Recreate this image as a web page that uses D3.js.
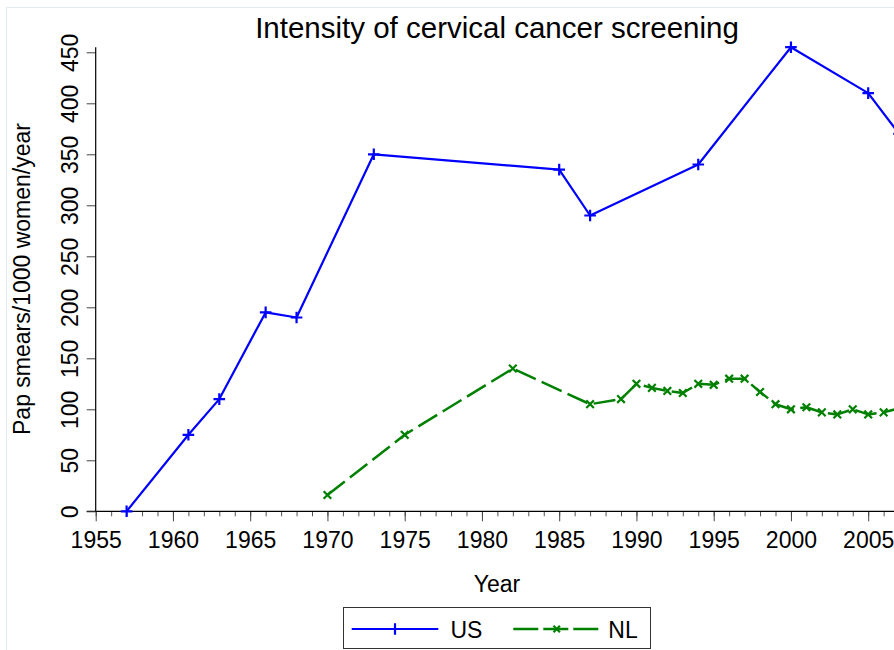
<!DOCTYPE html>
<html>
<head>
<meta charset="utf-8">
<script src="https://cdn.jsdelivr.net/npm/d3@7"></script>
<style>
  html, body { margin: 0; padding: 0; background: #fff; }
  svg { display: block; font-family: "Liberation Sans", Arial, sans-serif; }
</style>
</head>
<body>
<svg id="chart" width="894" height="650"></svg>
<script>
// Pap smears per 1000 women per year
const usYears  = [1957, 1961, 1963, 1966, 1968, 1973, 1985, 1987, 1994, 2000, 2005, 2007];
const usValues = [0, 75, 110, 195, 190, 350, 335, 290, 340, 455, 410, 370];

const nlYears  = [1970, 1975, 1982, 1987, 1989, 1990, 1991, 1992, 1993, 1994, 1995, 1996,
                  1997, 1998, 1999, 2000, 2001, 2002, 2003, 2004, 2005, 2006, 2007];
const nlValues = [16, 75, 140, 105, 110, 125, 121, 118, 116, 125, 124, 130,
                  130, 117, 105, 100, 102, 97, 95, 100, 95, 97, 101];

const xMajorTicks = [1955, 1960, 1965, 1970, 1975, 1980, 1985, 1990, 1995, 2000, 2005];
const xMinorTicks = d3.range(1955, 2008);
const yTicks = [0, 50, 100, 150, 200, 250, 300, 350, 400, 450];

const titleText = "Intensity of cervical cancer screening";
const xLabel = "Year";
const yLabel = "Pap smears/1000 women/year";
const seriesNames = ["US", "NL"];

const svg = d3.select("#chart");
const W = 894, H = 650;

// light outer frame of the graph region
svg.append("rect")
  .attr("x", 6.5).attr("y", 7.5).attr("width", W).attr("height", H)
  .attr("fill", "none").attr("stroke", "#e3ebee").attr("stroke-width", 1);

const x = d3.scaleLinear().domain([1955, 2007]).range([95.7, 95.7 + 52 * 15.45]);
const y = d3.scaleLinear().domain([0, 450]).range([511.3, 52.3]);

const fontSize = 23;

// x axis: minor ticks, then major ticks with labels
const xMinor = svg.append("g").attr("transform", `translate(0,${y(0)})`)
  .call(d3.axisBottom(x).tickValues(xMinorTicks).tickSize(5).tickFormat(""));
xMinor.select(".domain").remove();
xMinor.selectAll(".tick line").attr("stroke", "#555");

const xAxis = svg.append("g").attr("transform", `translate(0,${y(0)})`)
  .call(d3.axisBottom(x).tickValues(xMajorTicks).tickSize(10).tickPadding(8).tickFormat(d3.format("d")));
xAxis.select(".domain").remove();
xAxis.selectAll(".tick line").attr("stroke", "#444");
xAxis.selectAll(".tick text")
  .attr("font-size", fontSize).attr("fill", "#000")
  .attr("font-family", "Liberation Sans, Arial, sans-serif")
  .attr("dy", 0).attr("y", 36.5);

svg.append("line")
  .attr("x1", x(1955) - 9).attr("x2", W + 10)
  .attr("y1", y(0)).attr("y2", y(0))
  .attr("stroke", "#000").attr("stroke-width", 1.2);

// y axis with rotated labels
const yAxis = svg.append("g").attr("transform", `translate(${x(1955)},0)`)
  .call(d3.axisLeft(y).tickValues(yTicks).tickSize(9).tickFormat(d3.format("d")));
yAxis.select(".domain").remove();
yAxis.selectAll(".tick line").attr("stroke", "#444");
yAxis.selectAll(".tick text")
  .attr("font-size", fontSize).attr("fill", "#000")
  .attr("font-family", "Liberation Sans, Arial, sans-serif")
  .attr("transform", "rotate(-90)")
  .attr("text-anchor", "middle")
  .attr("x", 0).attr("dy", 0).attr("y", -18);

svg.append("line")
  .attr("x1", x(1955)).attr("x2", x(1955))
  .attr("y1", y(0)).attr("y2", y(d3.max(usValues)))
  .attr("stroke", "#000").attr("stroke-width", 1.2);

// titles
svg.append("text")
  .attr("x", 497).attr("y", 37.5)
  .attr("text-anchor", "middle").attr("font-size", 29.5).attr("fill", "#000")
  .text(titleText);

svg.append("text")
  .attr("x", 497).attr("y", 591.5)
  .attr("text-anchor", "middle").attr("font-size", fontSize).attr("fill", "#000")
  .text(xLabel);

svg.append("text")
  .attr("transform", `translate(29.5,279) rotate(-90)`)
  .attr("text-anchor", "middle").attr("font-size", fontSize).attr("fill", "#000")
  .text(yLabel);

// series
const us = usYears.map((yr, i) => ({ x: yr, v: usValues[i] }));
const nl = nlYears.map((yr, i) => ({ x: yr, v: nlValues[i] }));

const line = d3.line().x(d => x(d.x)).y(d => y(d.v));

const usColor = "#0000ff";
const nlColor = "#008000";

svg.append("path").datum(us)
  .attr("d", line).attr("fill", "none")
  .attr("stroke", usColor).attr("stroke-width", 2.2).attr("stroke-linejoin", "round");

svg.append("path").datum(nl)
  .attr("d", line).attr("fill", "none")
  .attr("stroke", nlColor).attr("stroke-width", 2.5)
  .attr("stroke-dasharray", "22,6.5").attr("stroke-linejoin", "round");

function plusPath(cx, cy, r) {
  return `M${cx - r},${cy}H${cx + r}M${cx},${cy - r}V${cy + r}`;
}
function crossPath(cx, cy, r) {
  return `M${cx - r},${cy - r}L${cx + r},${cy + r}M${cx - r},${cy + r}L${cx + r},${cy - r}`;
}

svg.append("g").selectAll("path").data(us).join("path")
  .attr("d", d => plusPath(x(d.x), y(d.v), 5.8))
  .attr("stroke", usColor).attr("stroke-width", 2.2).attr("fill", "none");

svg.append("g").selectAll("path").data(nl).join("path")
  .attr("d", d => crossPath(x(d.x), y(d.v), 3.8))
  .attr("stroke", nlColor).attr("stroke-width", 2.2).attr("fill", "none");

// legend
const lg = svg.append("g");
lg.append("rect")
  .attr("x", 343.5).attr("y", 607.5).attr("width", 307).attr("height", 41)
  .attr("fill", "#fff").attr("stroke", "#333").attr("stroke-width", 1);

const ly = 629;
lg.append("line").attr("x1", 351.7).attr("x2", 438.3).attr("y1", ly).attr("y2", ly)
  .attr("stroke", usColor).attr("stroke-width", 2.2);
lg.append("path").attr("d", plusPath(395, ly, 5.8))
  .attr("stroke", usColor).attr("stroke-width", 2.2).attr("fill", "none");
lg.append("text").attr("x", 450.5).attr("y", 637.5)
  .attr("font-size", fontSize).attr("fill", "#000").text(seriesNames[0]);

lg.append("line").attr("x1", 513.3).attr("x2", 598.3).attr("y1", ly).attr("y2", ly)
  .attr("stroke", nlColor).attr("stroke-width", 2.5).attr("stroke-dasharray", "25,5");
lg.append("path").attr("d", crossPath(556.7, ly, 3.2))
  .attr("stroke", nlColor).attr("stroke-width", 2.2).attr("fill", "none");
lg.append("text").attr("x", 608.3).attr("y", 637.5)
  .attr("font-size", fontSize).attr("fill", "#000").text(seriesNames[1]);
</script>
</body>
</html>
